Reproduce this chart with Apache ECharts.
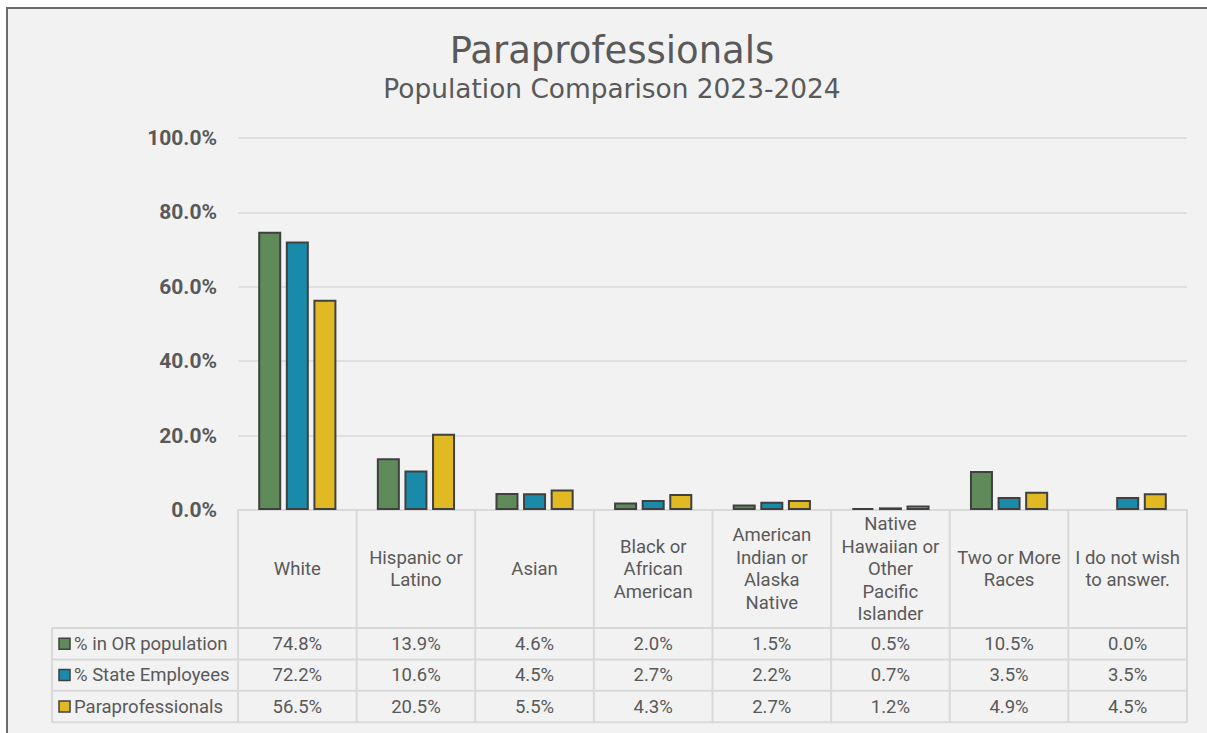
<!DOCTYPE html>
<html>
<head>
<meta charset="utf-8">
<title>Paraprofessionals</title>
<script src="https://cdn.jsdelivr.net/npm/echarts@6/dist/echarts.min.js"></script>
<style>
  html, body { margin: 0; padding: 0; background: #ffffff; overflow: hidden; }
  #frame { position: absolute; left: 6px; top: 7px; width: 1240px; height: 760px;
           border: 2px solid #6a6a6a; background: #f2f2f2; box-sizing: border-box; }
  #chart { position: absolute; left: 0; top: 0; width: 1207px; height: 733px; }
</style>
</head>
<body>
<div id="frame"></div>
<div id="chart"></div>
<script>
// Race / ethnicity groups (line breaks follow the table header wrapping)
const categories = [
  'White',
  'Hispanic or\nLatino',
  'Asian',
  'Black or\nAfrican\nAmerican',
  'American\nIndian or\nAlaska\nNative',
  'Native\nHawaiian or\nOther\nPacific\nIslander',
  'Two or More\nRaces',
  'I do not wish\nto answer.'
];
const seriesNames = ['% in OR population', '% State Employees', 'Paraprofessionals'];
const orPopulation      = [74.8, 13.9, 4.6, 2.0, 1.5, 0.5, 10.5, 0.0];
const stateEmployees    = [72.2, 10.6, 4.5, 2.7, 2.2, 0.7, 3.5, 3.5];
const paraprofessionals = [56.5, 20.5, 5.5, 4.3, 2.7, 1.2, 4.9, 4.5];
const yTicks = [0, 20, 40, 60, 80, 100];

const seriesValues = [orPopulation, stateEmployees, paraprofessionals];
const seriesColors = ['#5f8b5a', '#1a8aaa', '#e1b922'];

const TEXT = '#595959';
const LINE = '#d9d9d9';
const FONT = 'Roboto, "Liberation Sans", sans-serif';
const TITLE_FONT = '"DejaVu Sans", sans-serif';

const chart = echarts.init(document.getElementById('chart'), null, { renderer: 'svg' });

const fmt = v => v.toFixed(1) + '%';

const option = {
  backgroundColor: 'transparent',
  animation: false,
  grid: { left: 238, right: 20, top: 138, bottom: 223, containLabel: false },
  xAxis: {
    type: 'category',
    data: categories,
    axisLine: { show: true, lineStyle: { color: LINE, width: 2 } },
    axisTick: { show: false },
    axisLabel: { show: false }
  },
  yAxis: {
    type: 'value',
    min: yTicks[0],
    max: yTicks[yTicks.length - 1],
    interval: yTicks[1] - yTicks[0],
    axisLine: { show: false },
    axisTick: { show: false },
    splitLine: { lineStyle: { color: LINE, width: 1.5 } },
    axisLabel: {
      formatter: fmt,
      color: TEXT,
      fontFamily: FONT,
      fontWeight: 'bold',
      fontSize: 21,
      margin: 21
    }
  },
  series: seriesNames.map((name, s) => ({
    name,
    type: 'bar',
    barWidth: 23,
    barGap: '20%',
    data: seriesValues[s].map(v => v === 0 ? { value: v, itemStyle: { borderWidth: 0 } } : v),
    itemStyle: { color: seriesColors[s], borderColor: '#404040', borderWidth: 2 }
  }))
};

chart.setOption(option);

// Data table under the plot, laid out on the category axis positions
const cx = i => chart.convertToPixel({ xAxisIndex: 0 }, i);
const band = cx(1) - cx(0);
const yZero = chart.convertToPixel({ yAxisIndex: 0 }, 0);
const headerBottom = yZero + 118;
const rowH = 31.4;
const tableLeft = 52;
const plotLeft = cx(0) - band / 2;
const plotRight = cx(categories.length - 1) + band / 2;
const tableBottom = headerBottom + rowH * 3;

const els = [];
const line = (x1, y1, x2, y2) => els.push({
  type: 'line', silent: true,
  shape: { x1, y1, x2, y2 },
  style: { stroke: LINE, lineWidth: 2 }
});
const text = (str, x, y, opts) => els.push({
  type: 'text', silent: true,
  style: Object.assign({
    text: str, x, y, align: 'center', verticalAlign: 'middle',
    fontFamily: FONT, fontSize: 18.5, fill: TEXT, lineHeight: 22.5
  }, opts || {})
});

// horizontal rules
for (let r = 0; r <= 3; r++) line(tableLeft, headerBottom + r * rowH, plotRight, headerBottom + r * rowH);
// vertical rules
line(tableLeft, headerBottom, tableLeft, tableBottom);
for (let i = 0; i <= categories.length; i++) {
  const x = plotLeft + i * band;
  line(x, yZero, x, tableBottom);
}
// header cells
categories.forEach((c, i) => text(c, cx(i), (yZero + headerBottom) / 2));
// series rows: legend key, name, values
seriesNames.forEach((name, s) => {
  const cy = headerBottom + rowH * (s + 0.5);
  els.push({
    type: 'rect', silent: true,
    shape: { x: 59, y: cy - 5.5, width: 11, height: 11 },
    style: { fill: seriesColors[s], stroke: '#404040', lineWidth: 1.5 }
  });
  text(name, 74, cy, { align: 'left' });
  seriesValues[s].forEach((v, i) => text(fmt(v), cx(i), cy));
});

// titles
text('Paraprofessionals', 612, 50, { fontFamily: TITLE_FONT, fontSize: 37, lineHeight: 40 });
text('Population Comparison 2023-2024', 612, 88, { fontFamily: TITLE_FONT, fontSize: 26.4, lineHeight: 30 });

chart.setOption({ graphic: { elements: els } });
</script>
</body>
</html>
